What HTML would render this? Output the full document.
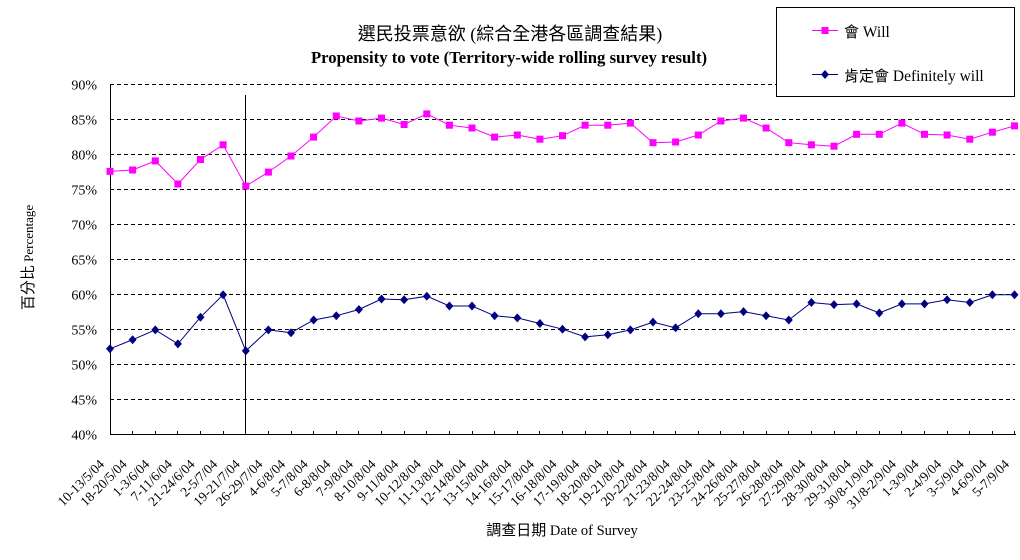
<!DOCTYPE html>
<html>
<head>
<meta charset="utf-8">
<style>
html,body{margin:0;padding:0;background:#fff;}
svg{display:block;}
</style>
</head>
<body>
<svg width="1020" height="560" viewBox="0 0 1020 560" xmlns="http://www.w3.org/2000/svg">
<defs>
<marker id="sq" markerWidth="8" markerHeight="8" refX="4" refY="4" markerUnits="userSpaceOnUse"><rect x="0.5" y="0.5" width="7" height="7" fill="#ff00ff"/></marker>
<marker id="dm" markerWidth="9" markerHeight="9" refX="4.5" refY="4.5" markerUnits="userSpaceOnUse"><path d="M4.5 0 L8.5 4.5 L4.5 9 L0.5 4.5Z" fill="#000080"/></marker>
</defs>
<rect width="1020" height="560" fill="#fff"/>

<!-- titles -->
<text x="510" y="40" text-anchor="middle" font-size="18" font-family="'Liberation Serif','Noto Sans CJK TC',serif">選民投票意欲 (綜合全港各區調查結果)</text>
<text x="509" y="63" text-anchor="middle" font-size="16.7" font-weight="bold" font-family="'Liberation Serif',serif">Propensity to vote (Territory-wide rolling survey result)</text>

<!-- gridlines -->
<g stroke="#000" stroke-width="1" stroke-dasharray="4,3" fill="none">
<line x1="110" y1="84.5" x2="1015" y2="84.5"/>
<line x1="110" y1="119.5" x2="1015" y2="119.5"/>
<line x1="110" y1="154.5" x2="1015" y2="154.5"/>
<line x1="110" y1="189.5" x2="1015" y2="189.5"/>
<line x1="110" y1="224.5" x2="1015" y2="224.5"/>
<line x1="110" y1="259.5" x2="1015" y2="259.5"/>
<line x1="110" y1="294.5" x2="1015" y2="294.5"/>
<line x1="110" y1="329.5" x2="1015" y2="329.5"/>
<line x1="110" y1="364.5" x2="1015" y2="364.5"/>
<line x1="110" y1="399.5" x2="1015" y2="399.5"/>
</g>

<!-- axes -->
<g stroke="#000" stroke-width="1" fill="none">
<line x1="110.5" y1="84" x2="110.5" y2="435"/>
<line x1="110" y1="434.5" x2="1016" y2="434.5"/>
<line x1="245.5" y1="95" x2="245.5" y2="435"/>
<path d="M132.5 431V435M155.5 431V435M177.5 431V435M200.5 431V435M223.5 431V435M268.5 431V435M291.5 431V435M313.5 431V435M336.5 431V435M358.5 431V435M381.5 431V435M404.5 431V435M426.5 431V435M449.5 431V435M472.5 431V435M494.5 431V435M517.5 431V435M539.5 431V435M562.5 431V435M585.5 431V435M607.5 431V435M630.5 431V435M653.5 431V435M675.5 431V435M698.5 431V435M720.5 431V435M743.5 431V435M766.5 431V435M788.5 431V435M811.5 431V435M834.5 431V435M856.5 431V435M879.5 431V435M901.5 431V435M924.5 431V435M947.5 431V435M969.5 431V435M992.5 431V435M1014.5 431V435"/>
</g>

<!-- y tick labels -->
<g font-family="'Liberation Serif',serif" font-size="14" text-anchor="end" fill="#000">
<text x="97" y="89.5">90%</text>
<text x="97" y="124.5">85%</text>
<text x="97" y="159.5">80%</text>
<text x="97" y="194.5">75%</text>
<text x="97" y="229.5">70%</text>
<text x="97" y="264.5">65%</text>
<text x="97" y="299.5">60%</text>
<text x="97" y="334.5">55%</text>
<text x="97" y="369.5">50%</text>
<text x="97" y="404.5">45%</text>
<text x="97" y="439.5">40%</text>
</g>

<!-- y axis title -->
<text transform="translate(33,257.5) rotate(-90)" text-anchor="middle" font-family="'Liberation Serif','Noto Sans CJK TC',serif" font-size="13"><tspan font-size="15">百分比</tspan> Percentage</text>

<!-- x axis title -->
<text x="562" y="535" text-anchor="middle" font-family="'Liberation Serif','Noto Sans CJK TC',serif" font-size="14.5"><tspan font-size="15">調查日期</tspan> Date of Survey</text>

<!-- x labels -->
<g font-family="'Liberation Serif',serif" font-size="13.5" text-anchor="end" fill="#000">
<text transform="translate(105,465) rotate(-45)">10-13/5/04</text>
<text transform="translate(127.6,465) rotate(-45)">18-20/5/04</text>
<text transform="translate(150.3,465) rotate(-45)">1-3/6/04</text>
<text transform="translate(172.9,465) rotate(-45)">7-11/6/04</text>
<text transform="translate(195.5,465) rotate(-45)">21-24/6/04</text>
<text transform="translate(218.1,465) rotate(-45)">2-5/7/04</text>
<text transform="translate(240.8,465) rotate(-45)">19-21/7/04</text>
<text transform="translate(263.4,465) rotate(-45)">26-29/7/04</text>
<text transform="translate(286,465) rotate(-45)">4-6/8/04</text>
<text transform="translate(308.6,465) rotate(-45)">5-7/8/04</text>
<text transform="translate(331.3,465) rotate(-45)">6-8/8/04</text>
<text transform="translate(353.9,465) rotate(-45)">7-9/8/04</text>
<text transform="translate(376.5,465) rotate(-45)">8-10/8/04</text>
<text transform="translate(399.1,465) rotate(-45)">9-11/8/04</text>
<text transform="translate(421.8,465) rotate(-45)">10-12/8/04</text>
<text transform="translate(444.4,465) rotate(-45)">11-13/8/04</text>
<text transform="translate(467,465) rotate(-45)">12-14/8/04</text>
<text transform="translate(489.6,465) rotate(-45)">13-15/8/04</text>
<text transform="translate(512.3,465) rotate(-45)">14-16/8/04</text>
<text transform="translate(534.9,465) rotate(-45)">15-17/8/04</text>
<text transform="translate(557.5,465) rotate(-45)">16-18/8/04</text>
<text transform="translate(580.1,465) rotate(-45)">17-19/8/04</text>
<text transform="translate(602.8,465) rotate(-45)">18-20/8/04</text>
<text transform="translate(625.4,465) rotate(-45)">19-21/8/04</text>
<text transform="translate(648,465) rotate(-45)">20-22/8/04</text>
<text transform="translate(670.6,465) rotate(-45)">21-23/8/04</text>
<text transform="translate(693.3,465) rotate(-45)">22-24/8/04</text>
<text transform="translate(715.9,465) rotate(-45)">23-25/8/04</text>
<text transform="translate(738.5,465) rotate(-45)">24-26/8/04</text>
<text transform="translate(761.1,465) rotate(-45)">25-27/8/04</text>
<text transform="translate(783.8,465) rotate(-45)">26-28/8/04</text>
<text transform="translate(806.4,465) rotate(-45)">27-29/8/04</text>
<text transform="translate(829,465) rotate(-45)">28-30/8/04</text>
<text transform="translate(851.6,465) rotate(-45)">29-31/8/04</text>
<text transform="translate(874.3,465) rotate(-45)">30/8-1/9/04</text>
<text transform="translate(896.9,465) rotate(-45)">31/8-2/9/04</text>
<text transform="translate(919.5,465) rotate(-45)">1-3/9/04</text>
<text transform="translate(942.1,465) rotate(-45)">2-4/9/04</text>
<text transform="translate(964.8,465) rotate(-45)">3-5/9/04</text>
<text transform="translate(987.4,465) rotate(-45)">4-6/9/04</text>
<text transform="translate(1010,465) rotate(-45)">5-7/9/04</text>
</g>

<!-- Will series -->
<polyline fill="none" stroke="#ff00ff" stroke-width="1" marker-start="url(#sq)" marker-mid="url(#sq)" marker-end="url(#sq)"
points="110,171.4 132.6,170.0 155.3,160.9 177.9,184.0 200.5,159.5 223.1,144.8 245.8,186.1 268.4,172.1 291,156.0 313.6,137.1 336.3,116.0 358.9,121.0 381.5,118.1 404.1,124.5 426.8,113.9 449.4,125.2 472,128.0 494.6,137.1 517.3,135.0 539.9,139.2 562.5,135.7 585.1,125.2 607.8,125.2 630.4,123.1 653,142.7 675.6,142.0 698.3,135.0 720.9,121.0 743.5,118.1 766.1,128.0 788.8,142.7 811.4,144.8 834,146.2 856.6,134.3 879.3,134.3 901.9,123.1 924.5,134.3 947.1,135.0 969.8,139.2 992.4,132.2 1014.5,125.9"/>

<!-- Definitely will series -->
<polyline fill="none" stroke="#000080" stroke-width="1" marker-start="url(#dm)" marker-mid="url(#dm)" marker-end="url(#dm)"
points="110,348.8 132.6,339.7 155.3,329.9 177.9,343.9 200.5,317.2 223.1,294.8 245.8,350.9 268.4,329.9 291,332.7 313.6,320.0 336.3,315.8 358.9,309.5 381.5,299.0 404.1,299.7 426.8,296.2 449.4,306.0 472,306.0 494.6,315.8 517.3,317.9 539.9,323.5 562.5,329.2 585.1,336.9 607.8,334.8 630.4,329.9 653,322.1 675.6,327.8 698.3,313.7 720.9,313.7 743.5,311.6 766.1,315.8 788.8,320.0 811.4,302.5 834,304.6 856.6,303.9 879.3,313.0 901.9,303.9 924.5,303.9 947.1,299.7 969.8,302.5 992.4,294.8 1014.5,294.8"/>

<!-- legend -->
<rect x="776.5" y="7.5" width="238" height="89" fill="#fff" stroke="#000" stroke-width="1"/>
<line x1="812" y1="30.5" x2="838" y2="30.5" stroke="#ff00ff" stroke-width="1"/>
<rect x="821.5" y="27" width="7" height="7" fill="#ff00ff"/>
<line x1="812" y1="74.5" x2="838" y2="74.5" stroke="#000080" stroke-width="1"/>
<path d="M825 70 L829 74.5 L825 79 L821 74.5Z" fill="#000080"/>
<g font-family="'Liberation Serif','Noto Sans CJK TC',serif" font-size="15.5" fill="#000">
<text x="844" y="37"><tspan font-size="15">會</tspan> Will</text>
<text x="844" y="81"><tspan font-size="15">肯定會</tspan> Definitely will</text>
</g>
</svg>
</body>
</html>
